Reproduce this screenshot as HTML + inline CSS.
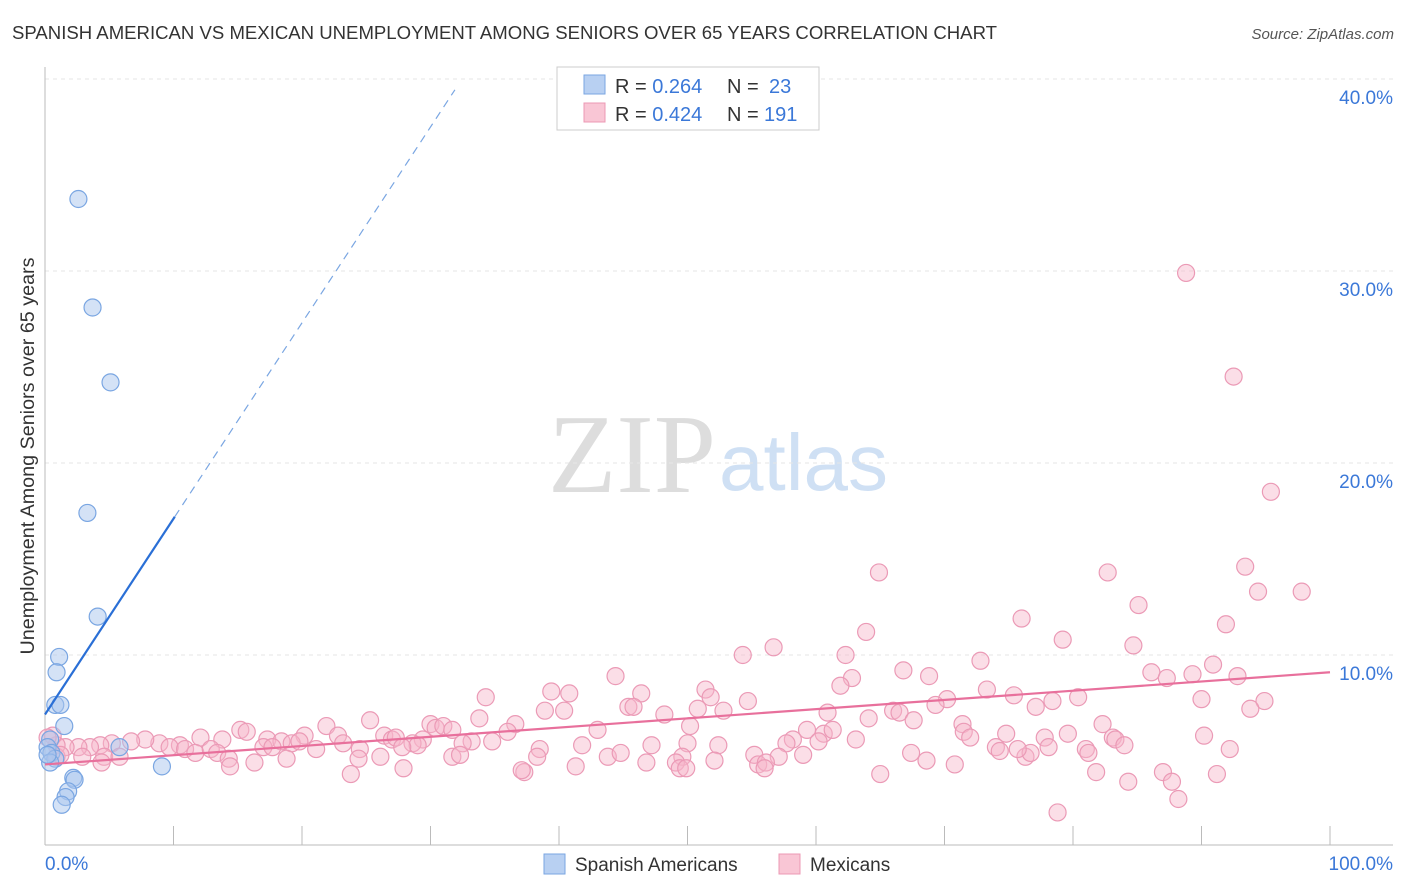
<!DOCTYPE html>
<html><head><meta charset="utf-8"><style>
body{margin:0;background:#fff;font-family:"Liberation Sans",sans-serif;}
#wrap{position:relative;width:1406px;height:892px;overflow:hidden;}
</style></head><body>
<div id="wrap">
<svg id="chart" width="1406" height="892">
<text x="12" y="39" font-size="18" fill="#333" textLength="985" lengthAdjust="spacingAndGlyphs">SPANISH AMERICAN VS MEXICAN UNEMPLOYMENT AMONG SENIORS OVER 65 YEARS CORRELATION CHART</text>
<text x="1394" y="39" font-size="15" fill="#555" font-style="italic" text-anchor="end">Source: ZipAtlas.com</text>
<text x="0" y="0" font-size="19" fill="#333" transform="translate(34,456) rotate(-90)" text-anchor="middle" textLength="397" lengthAdjust="spacingAndGlyphs">Unemployment Among Seniors over 65 years</text>
<text x="716" y="492" font-size="112" fill="#ddd" font-family="Liberation Serif,serif" text-anchor="end">ZIP</text>
<text x="719" y="490" font-size="80" fill="#cfe0f4">atlas</text>
<g id="grid"></g><g id="axes"></g><g id="pts"></g><g id="trend"></g>
<g>
<rect x="557" y="67" width="262" height="63" fill="#fff" stroke="#ccc"/>
<rect x="584" y="75" width="21" height="19" fill="#b8d0f2" stroke="#7aa6e2"/>
<rect x="584" y="103" width="21" height="19" fill="#f9c6d5" stroke="#ec98b4"/>
<text x="615" y="93" font-size="20" fill="#333">R = <tspan fill="#3b78d8">0.264</tspan></text>
<text x="727" y="93" font-size="20" fill="#333">N = <tspan x="769" fill="#3b78d8">23</tspan></text>
<text x="615" y="121" font-size="20" fill="#333">R = <tspan fill="#3b78d8">0.424</tspan></text>
<text x="727" y="121" font-size="20" fill="#333">N = <tspan x="764" fill="#3b78d8">191</tspan></text>
</g>
<g>
<rect x="544" y="854" width="21" height="20" fill="#b8d0f2" stroke="#7aa6e2"/>
<text x="575" y="871" font-size="19" fill="#333">Spanish Americans</text>
<rect x="779" y="854" width="21" height="20" fill="#f9c6d5" stroke="#ec98b4"/>
<text x="810" y="871" font-size="19" fill="#333">Mexicans</text>
</g>
</svg>
</div>
<script>
const yTicks=[10,20,30,40];
const yTickLabels=["10.0%","20.0%","30.0%","40.0%"];
const xTicks=[0,10,20,30,40,50,60,70,80,90,100];
const blueX=[2.6,3.7,5.1,3.3,4.1,1.1,0.9,0.8,1.2,1.5,0.4,0.2,0.5,0.8,0.4,5.8,9.1,2.2,2.3,1.8,1.6,1.3,0.2];
const blueY=[33.75,28.1,24.2,17.4,12.0,9.9,9.1,7.4,7.4,6.3,5.6,5.2,4.9,4.6,4.4,5.2,4.2,3.6,3.5,2.9,2.6,2.2,4.8];
const pinkX=[88.8,92.5,95.4,64.9,93.4,82.7,97.8,94.4,85.1,76.0,91.9,63.9,79.2,84.7,56.7,54.3,62.3,72.8,90.9,66.8,86.1,89.3,87.3,92.8,44.4,62.8,68.8,51.4,61.9,39.4,40.8,46.4,73.3,34.3,51.8,75.4,80.4,54.7,70.2,90.0,78.4,94.9,45.4,45.8,38.9,40.4,52.8,50.8,66.0,69.3,77.1,93.8,60.9,66.5,48.2,25.3,33.8,36.6,71.4,82.3,30.0,30.4,31.0,21.9,15.2,15.7,31.7,36.0,43.0,50.2,64.1,67.6,59.3,60.6,61.3,71.5,72.0,74.8,79.6,83.1,77.8,83.3,90.2,12.1,13.8,20.2,22.8,26.4,29.4,33.2,27.0,27.3,17.3,18.4,19.2,19.8,23.2,28.6,29.0,10.5,8.9,7.8,6.7,5.2,4.3,3.5,2.6,1.6,0.9,0.6,0.2,9.7,10.9,11.7,12.9,13.4,17.0,17.7,21.1,24.5,27.8,32.5,34.8,38.5,41.8,47.2,50.0,52.4,58.2,57.7,60.2,63.1,74.0,74.3,81.0,84.0,78.1,92.2,4.6,5.8,0.9,2.9,14.3,16.3,24.4,26.1,31.7,32.3,38.3,43.8,44.8,49.6,55.2,57.1,59.0,67.4,76.3,81.2,76.7,49.1,55.5,56.1,49.4,52.1,4.4,14.4,18.8,27.9,37.3,41.3,46.8,49.9,65.0,68.6,70.8,87.0,91.2,81.8,84.3,87.7,88.2,78.8,23.8,37.1,56.0,1.2,75.7];
const pinkY=[29.9,24.5,18.5,14.3,14.6,14.3,13.3,13.3,12.6,11.9,11.6,11.2,10.8,10.5,10.4,10.0,10.0,9.7,9.5,9.2,9.1,9.0,8.8,8.9,8.9,8.8,8.9,8.2,8.4,8.1,8.0,8.0,8.2,7.8,7.8,7.9,7.8,7.6,7.7,7.7,7.6,7.6,7.3,7.3,7.1,7.1,7.1,7.2,7.1,7.4,7.3,7.2,7.0,7.0,6.9,6.6,6.7,6.4,6.4,6.4,6.4,6.2,6.3,6.3,6.1,6.0,6.1,6.0,6.1,6.3,6.7,6.6,6.1,5.9,6.1,6.0,5.7,5.9,5.9,5.7,5.7,5.6,5.8,5.7,5.6,5.8,5.8,5.8,5.6,5.5,5.6,5.7,5.6,5.5,5.4,5.5,5.4,5.4,5.3,5.3,5.4,5.6,5.5,5.4,5.3,5.2,5.2,5.2,5.3,5.8,5.7,5.2,5.1,4.9,5.1,4.9,5.2,5.2,5.1,5.1,5.2,5.4,5.5,5.1,5.3,5.3,5.4,5.3,5.6,5.4,5.5,5.6,5.2,5.0,5.1,5.3,5.2,5.1,4.7,4.7,4.7,4.7,4.6,4.4,4.6,4.7,4.7,4.8,4.7,4.7,4.9,4.7,4.8,4.7,4.8,4.9,4.7,4.9,4.9,4.4,4.3,4.4,4.1,4.5,4.4,4.2,4.6,4.1,3.9,4.2,4.4,4.1,3.8,4.5,4.3,3.9,3.8,3.9,3.4,3.4,2.5,1.8,3.8,4.0,4.1,4.8,5.1];
const blueTrend=[6.9,1.02];   // intercept, slope
const pinkTrend=[4.3,0.048];
const NS="http://www.w3.org/2000/svg";
const sx=v=>45+v*12.85, sy=v=>847-v*19.2;
function mk(tag,at,parent){const e=document.createElementNS(NS,tag);for(const k in at)e.setAttribute(k,at[k]);document.getElementById(parent).appendChild(e);return e;}
yTicks.forEach((t,i)=>{
 const l=mk('line',{x1:45,x2:1393,y1:sy(t),y2:sy(t),stroke:'#e6e6e6','stroke-dasharray':'4,4'},'grid');
 
 
 const tx=mk('text',{x:1393,y:sy(t)+25,'font-size':19,fill:'#3b78d8','text-anchor':'end'},'grid');tx.textContent=yTickLabels[i];
 
 
});
const ya=mk('line',{x1:45,x2:45,y1:67,y2:845,stroke:'#bbb'},'axes');


const xa=mk('line',{x1:45,x2:1393,y1:845,y2:845,stroke:'#bbb'},'axes');


xTicks.forEach(t=>{const l=mk('line',{x1:sx(t),x2:sx(t),y1:826,y2:845,stroke:'#bbb'},'axes');
 
 });
const x0=mk('text',{x:45,y:870,'font-size':19,fill:'#3b78d8'},'axes');x0.textContent='0.0%';


const x1=mk('text',{x:1393,y:870,'font-size':19,fill:'#3b78d8','text-anchor':'end'},'axes');x1.textContent='100.0%';


pinkX.forEach((x,i)=>{const c=mk('circle',{cx:sx(x),cy:sy(pinkY[i]),r:8.5,fill:'rgba(246,182,202,0.45)',stroke:'#eb9ab6','stroke-width':1.2},'pts');
 
 });
blueX.forEach((x,i)=>{const c=mk('circle',{cx:sx(x),cy:sy(blueY[i]),r:8.5,fill:'rgba(170,198,238,0.5)',stroke:'#7aa6e2','stroke-width':1.2},'pts');
 
 });
const bEnd=10.1, bDash=31.9;
const b1=mk('line',{x1:sx(0),y1:sy(blueTrend[0]),x2:sx(bEnd),y2:sy(blueTrend[0]+blueTrend[1]*bEnd),stroke:'#2a6fd6','stroke-width':2.2},'trend');


const b2=mk('line',{x1:sx(bEnd),y1:sy(blueTrend[0]+blueTrend[1]*bEnd),x2:sx(bDash),y2:sy(blueTrend[0]+blueTrend[1]*bDash),stroke:'#7aa6e2','stroke-width':1.2,'stroke-dasharray':'8,6'},'trend');


const p1=mk('line',{x1:sx(0),y1:sy(pinkTrend[0]),x2:sx(100),y2:sy(pinkTrend[0]+pinkTrend[1]*100),stroke:'#e8709c','stroke-width':2.2},'trend');


</script>
</body></html>
